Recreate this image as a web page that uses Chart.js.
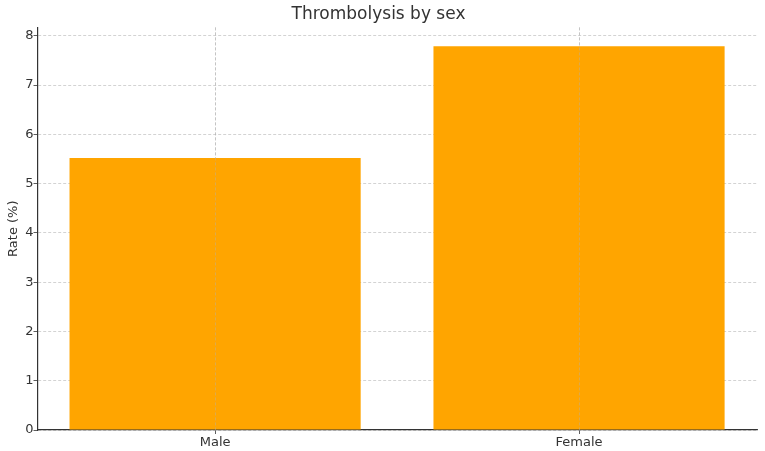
<!DOCTYPE html>
<html>
<head>
<meta charset="utf-8">
<script src="https://cdn.jsdelivr.net/npm/chart.js@4/dist/chart.umd.min.js"></script>
<style>
html,body{margin:0;padding:0;background:#fff;}
#wrap{width:765px;height:451px;position:relative;}
</style>
</head>
<body>
<div id="wrap"><canvas id="c" width="765" height="451"></canvas></div>
<script>
const categories = ["Male", "Female"];
const rates = [5.52, 7.79];
const yTicks = [0, 1, 2, 3, 4, 5, 6, 7, 8];
const chartTitle = "Thrombolysis by sex";
const yTitle = "Rate (%)";

const textColor = '#333333';
const font = 'DejaVu Sans';
const gridColor = 'rgba(176,176,176,0.7)';

// redraw the vertical grid lines above the bars (as in the reference)
const xGridOnTop = {
  id: 'xGridOnTop',
  afterDatasetsDraw(chart) {
    const {ctx, chartArea, scales: {x}} = chart;
    ctx.save();
    ctx.strokeStyle = 'rgba(176,176,176,0.55)';
    ctx.lineWidth = 0.8;
    ctx.setLineDash([3, 2]);
    x.ticks.forEach(t => {
      const px = Math.round(x.getPixelForValue(t.value)) + 0.5;
      ctx.beginPath();
      ctx.moveTo(px, chartArea.top);
      ctx.lineTo(px, chartArea.bottom);
      ctx.stroke();
    });
    ctx.restore();
  }
};

new Chart(document.getElementById('c'), {
  type: 'bar',
  data: {
    datasets: [{
      data: categories.map((c, i) => ({x: i, y: rates[i]})),
      backgroundColor: '#FFA500',
      borderWidth: 0,
      barPercentage: 1,
      categoryPercentage: 0.8
    }]
  },
  plugins: [xGridOnTop],
  options: {
    responsive: false,
    animation: false,
    layout: {padding: {left: 0, right: 8, top: 0, bottom: 0}},
    plugins: {
      legend: {display: false},
      tooltip: {enabled: false},
      title: {
        display: true,
        text: chartTitle,
        color: textColor,
        font: {family: font, size: 17, weight: 'normal'},
        padding: {top: 4, bottom: 3}
      }
    },
    scales: {
      x: {
        type: 'linear',
        offset: false,
        min: -0.488,
        max: 1.489,
        afterBuildTicks: (s) => { s.ticks = categories.map((c, i) => ({value: i})); },
        afterFit: (s) => { s.height = 21; },
        ticks: {
          callback: (v) => categories[v] ?? '',
          color: textColor,
          font: {family: font, size: 13},
          padding: 1,
          maxRotation: 0
        },
        grid: {
          offset: false,
          color: gridColor,
          lineWidth: 0.8,
          tickColor: '#333333',
          tickBorderDash: [],
          tickLength: 4
        },
        border: {color: '#333333', width: 1.2, dash: [3, 2]}
      },
      y: {
        min: 0,
        max: 8.17,
        afterBuildTicks: (s) => { s.ticks = yTicks.map(v => ({value: v})); },
        afterFit: (s) => { s.width = 37.5; },
        ticks: {
          color: textColor,
          font: {family: font, size: 13},
          padding: 0
        },
        title: {
          display: true,
          text: yTitle,
          color: textColor,
          font: {family: font, size: 13},
          padding: {top: 6, bottom: 0}
        },
        grid: {
          color: gridColor,
          lineWidth: 0.8,
          tickColor: '#333333',
          tickBorderDash: [],
          tickLength: 4
        },
        border: {color: '#333333', width: 1.2, dash: [3, 2]}
      }
    }
  }
});
</script>
</body>
</html>
